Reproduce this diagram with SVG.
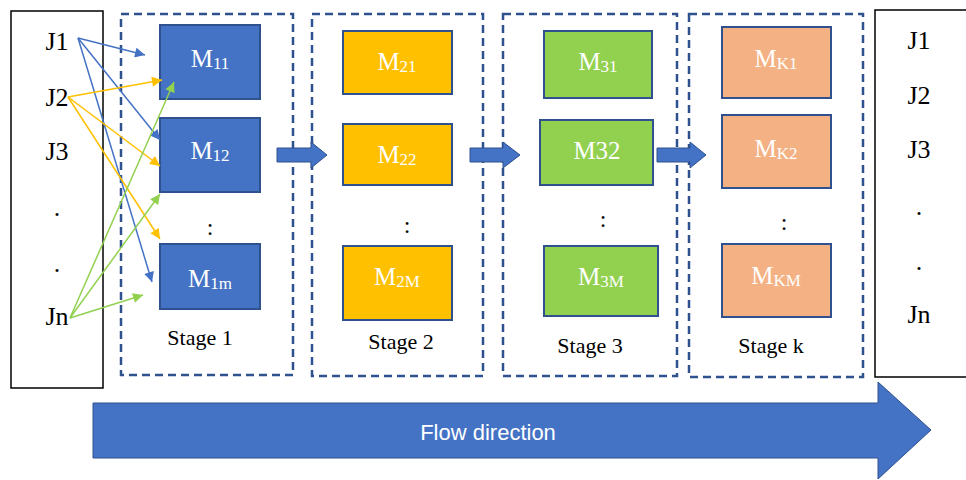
<svg xmlns="http://www.w3.org/2000/svg" width="966" height="480" viewBox="0 0 966 480">
<style>
text.serif{font-family:"Liberation Serif","Times New Roman",Tinos,"Noto Serif","DejaVu Serif",FreeSerif,serif;fill:#000}
.j{font-size:26px;text-anchor:middle}
.st{font-size:22px;text-anchor:middle}
.col{font-size:24px;text-anchor:middle}
text.m{font-family:"Liberation Serif","Times New Roman",Tinos,"Noto Serif","DejaVu Serif",FreeSerif,serif;font-size:25px;fill:#fff;text-anchor:middle}
.sub{font-size:17px}
.stage{fill:none;stroke:#2F528F;stroke-width:2.5;stroke-dasharray:8 5}
.b1{fill:#4472C4;stroke:#2F528F;stroke-width:2}
.b2{fill:#FFC000;stroke:#2F528F;stroke-width:2}
.b3{fill:#92D050;stroke:#2F528F;stroke-width:2}
.bk{fill:#F4B183;stroke:#2F528F;stroke-width:2}
.blk{fill:#4472C4;stroke:#2F528F;stroke-width:1}
.cb{stroke:#4472C4;stroke-width:1.5;fill:none;marker-end:url(#ab)}
.cy{stroke:#FFC000;stroke-width:1.5;fill:none;marker-end:url(#ay)}
.cg{stroke:#92D050;stroke-width:1.5;fill:none;marker-end:url(#ag)}
</style>
<defs>
<marker id="ab" viewBox="0 0 10 10" refX="10" refY="5" markerWidth="11" markerHeight="10" markerUnits="userSpaceOnUse" orient="auto"><path d="M0,0 L10,5 L0,10 z" fill="#4472C4"/></marker>
<marker id="ay" viewBox="0 0 10 10" refX="10" refY="5" markerWidth="11" markerHeight="10" markerUnits="userSpaceOnUse" orient="auto"><path d="M0,0 L10,5 L0,10 z" fill="#FFC000"/></marker>
<marker id="ag" viewBox="0 0 10 10" refX="10" refY="5" markerWidth="11" markerHeight="10" markerUnits="userSpaceOnUse" orient="auto"><path d="M0,0 L10,5 L0,10 z" fill="#92D050"/></marker>
</defs>
<rect width="966" height="480" fill="#fff"/>

<g id="jobs-in">
<rect x="11" y="11" width="92" height="377" fill="#fff" stroke="#000" stroke-width="1.5"/>
<text class="serif j" x="57" y="50">J1</text>
<text class="serif j" x="57" y="106">J2</text>
<text class="serif j" x="57" y="160">J3</text>
<text class="serif j" x="57" y="216">.</text>
<text class="serif j" x="57" y="272">.</text>
<text class="serif j" x="57" y="325">Jn</text>
</g>

<g id="stage1">
<rect class="stage" x="121" y="14" width="172" height="361"/>
<g id="m11"><rect class="b1" x="160" y="25" width="100" height="74"/><text class="m" x="210" y="67">M<tspan class="sub" dy="2">11</tspan></text></g>
<g id="m12"><rect class="b1" x="160" y="118" width="100" height="74"/><text class="m" x="210" y="159">M<tspan class="sub" dy="2">12</tspan></text></g>
<text class="serif col" x="210" y="235">:</text>
<g id="m1m"><rect class="b1" x="160" y="244" width="100" height="65"/><text class="m" x="210" y="287">M<tspan class="sub" dy="2">1m</tspan></text></g>
<text class="serif st" x="200" y="345">Stage 1</text>
</g>

<g id="stage2">
<rect class="stage" x="312" y="14" width="171" height="362"/>
<g id="m21"><rect class="b2" x="343" y="31" width="109" height="63"/><text class="m" x="397" y="70">M<tspan class="sub" dy="2">21</tspan></text></g>
<g id="m22"><rect class="b2" x="343" y="124" width="109" height="61"/><text class="m" x="397" y="163">M<tspan class="sub" dy="2">22</tspan></text></g>
<text class="serif col" x="407" y="233">:</text>
<g id="m2m"><rect class="b2" x="343" y="246" width="109" height="74"/><text class="m" x="397" y="285">M<tspan class="sub" dy="2">2M</tspan></text></g>
<text class="serif st" x="401" y="349">Stage 2</text>
</g>

<g id="stage3">
<rect class="stage" x="503" y="14" width="174" height="362"/>
<g id="m31"><rect class="b3" x="544" y="31" width="108" height="67"/><text class="m" x="598" y="70">M<tspan class="sub" dy="2">31</tspan></text></g>
<g id="m32"><rect class="b3" x="540" y="120" width="113" height="65"/><text class="m" x="597" y="159" font-size="26">M32</text></g>
<text class="serif col" x="603" y="227">:</text>
<g id="m3m"><rect class="b3" x="544" y="246" width="114" height="70"/><text class="m" x="601" y="285">M<tspan class="sub" dy="2">3M</tspan></text></g>
<text class="serif st" x="590" y="353">Stage 3</text>
</g>

<g id="stagek">
<rect class="stage" x="689" y="14" width="174" height="363"/>
<g id="mk1"><rect class="bk" x="722" y="27" width="109" height="71"/><text class="m" x="776" y="67">M<tspan class="sub" dy="2">K1</tspan></text></g>
<g id="mk2"><rect class="bk" x="722" y="115" width="109" height="73"/><text class="m" x="776" y="157">M<tspan class="sub" dy="2">K2</tspan></text></g>
<text class="serif col" x="784" y="230">:</text>
<g id="mkm"><rect class="bk" x="722" y="244" width="109" height="73"/><text class="m" x="776" y="284">M<tspan class="sub" dy="2">KM</tspan></text></g>
<text class="serif st" x="771" y="353">Stage k</text>
</g>

<g id="jobs-out">
<rect x="875" y="10" width="100" height="367" fill="#fff" stroke="#000" stroke-width="1.5"/>
<text class="serif j" x="919" y="49">J1</text>
<text class="serif j" x="919" y="104">J2</text>
<text class="serif j" x="919" y="158">J3</text>
<text class="serif j" x="919" y="215">.</text>
<text class="serif j" x="919" y="270">.</text>
<text class="serif j" x="919" y="323">Jn</text>
</g>

<g id="connectors">
<line class="cb" x1="78" y1="38" x2="145" y2="55"/>
<line class="cb" x1="78" y1="38" x2="160" y2="140"/>
<line class="cb" x1="78" y1="38" x2="152" y2="282"/>
<line class="cy" x1="68" y1="97" x2="162" y2="80"/>
<line class="cy" x1="68" y1="97" x2="160" y2="166"/>
<line class="cy" x1="68" y1="97" x2="160" y2="239"/>
<line class="cg" x1="70" y1="318" x2="174" y2="82"/>
<line class="cg" x1="70" y1="318" x2="160" y2="194"/>
<line class="cg" x1="70" y1="318" x2="143" y2="295"/>
<polygon class="blk" points="277,148 311,148 311,142 327,155 311,168 311,162 277,162"/>
<polygon class="blk" points="470,148 503,148 503,142 520,155 503,168 503,162 470,162"/>
<polygon class="blk" points="657,148 690,148 690,142 706,155 690,168 690,162 657,162"/>
</g>

<g id="flow">
<polygon points="93,403 878,403 878,382 931,430 878,479 878,458 93,458" fill="#4472C4" stroke="#2F528F" stroke-width="1"/>
<text x="488" y="440" font-family="'Liberation Sans',Arial,sans-serif" font-size="22" fill="#fff" text-anchor="middle">Flow direction</text>
</g>
</svg>
